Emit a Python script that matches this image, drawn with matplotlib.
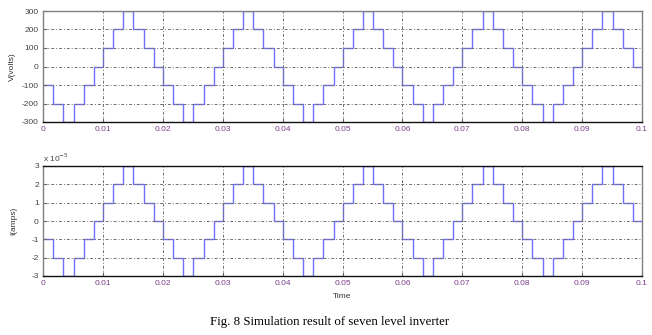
import numpy as np
import matplotlib
matplotlib.use('Agg')
import matplotlib.pyplot as plt

# switching instants (s) of the staircase
t_edges = [
    0.0000, 0.0017, 0.0034, 0.0051, 0.0068, 0.0085, 0.0100, 0.0117, 0.0134, 0.0151, 0.0168, 0.0185,
    0.0200, 0.0217, 0.0234, 0.0251, 0.0268, 0.0285, 0.0300, 0.0317, 0.0334, 0.0351, 0.0368, 0.0385,
    0.0400, 0.0417, 0.0434, 0.0451, 0.0468, 0.0485, 0.0500, 0.0517, 0.0534, 0.0551, 0.0568, 0.0585,
    0.0600, 0.0617, 0.0634, 0.0651, 0.0668, 0.0685, 0.0700, 0.0717, 0.0734, 0.0751, 0.0768, 0.0785,
    0.0800, 0.0817, 0.0834, 0.0851, 0.0868, 0.0885, 0.0900, 0.0917, 0.0934, 0.0951, 0.0968, 0.0985,
    0.1000,
]

v_levels = [
    -100, -200, -300, -200, -100, 0, 100, 200, 300, 200, 100, 0,
    -100, -200, -300, -200, -100, 0, 100, 200, 300, 200, 100, 0,
    -100, -200, -300, -200, -100, 0, 100, 200, 300, 200, 100, 0,
    -100, -200, -300, -200, -100, 0, 100, 200, 300, 200, 100, 0,
    -100, -200, -300, -200, -100, 0, 100, 200, 300, 200, 100, 0,
]

# current in units of 1e-5 A
i_levels = [
    -1, -2, -3, -2, -1, 0, 1, 2, 3, 2, 1, 0,
    -1, -2, -3, -2, -1, 0, 1, 2, 3, 2, 1, 0,
    -1, -2, -3, -2, -1, 0, 1, 2, 3, 2, 1, 0,
    -1, -2, -3, -2, -1, 0, 1, 2, 3, 2, 1, 0,
    -1, -2, -3, -2, -1, 0, 1, 2, 3, 2, 1, 0,
]

x_ticks = [0, 0.01, 0.02, 0.03, 0.04, 0.05, 0.06, 0.07, 0.08, 0.09, 0.1]
x_labels = ['0', '0.01', '0.02', '0.03', '0.04', '0.05', '0.06', '0.07', '0.08', '0.09', '0.1']
v_ticks = [-300, -200, -100, 0, 100, 200, 300]
i_ticks = [-3, -2, -1, 0, 1, 2, 3]

plt.rcParams['font.family'] = ['Liberation Sans Narrow', 'Liberation Sans', 'DejaVu Sans']
plt.rcParams['axes.unicode_minus'] = False

W, H = 652, 335
fig = plt.figure(figsize=(W / 100, H / 100), dpi=100)
fig.patch.set_facecolor('white')

LINE = '#7070ff'
TICKCOL = '#7a3f88'


def setup(ax, levels, yticks):
    ax.stairs(levels, t_edges, baseline=None, color=LINE, linewidth=1.0)
    ax.set_xlim(0, 0.1)
    ax.set_ylim(yticks[0], yticks[-1])
    ax.set_xticks(x_ticks)
    ax.set_xticklabels(x_labels)
    ax.set_yticks(yticks)
    ax.grid(True, color='#707070', linestyle=(0, (3, 2, 1, 2)), linewidth=0.7)
    ax.tick_params(direction='in', length=3, labelsize=6, color='#666666', pad=3)
    for lbl in ax.get_xticklabels():
        lbl.set_color(TICKCOL)
    for lbl in ax.get_yticklabels():
        lbl.set_color('#444444')
    for s in ax.spines.values():
        s.set_color('#808080')
        s.set_linewidth(1.0)
    ax.spines['bottom'].set_color('#111111')


ax1 = fig.add_axes([43 / W, 1 - 122 / H, (642 - 43) / W, (122 - 11) / H])
ax2 = fig.add_axes([43 / W, 1 - 276 / H, (642 - 43) / W, (276 - 166) / H])
setup(ax1, v_levels, v_ticks)
setup(ax2, i_levels, i_ticks)
ax2.spines['top'].set_color('#111111')

ax1.set_ylabel('V(volts)', fontsize=6, color='#333333', labelpad=4)
ax2.set_ylabel('I(amps)', fontsize=6, color='#333333', labelpad=10)
ax2.set_xlabel('Time', fontsize=6, color='#333333', labelpad=4)

fig.text(43 / W, 1 - 158 / H, r'x 10$^{-5}$', fontsize=6, color='#444444',
         ha='left', va='center')

fig.text(330 / W, 1 - 322 / H, 'Fig. 8 Simulation result of seven level inverter',
         fontsize=9.3, family=['Liberation Serif', 'DejaVu Serif'],
         ha='center', va='center', color='black')

fig.savefig('out.png', dpi=100, facecolor='white')
